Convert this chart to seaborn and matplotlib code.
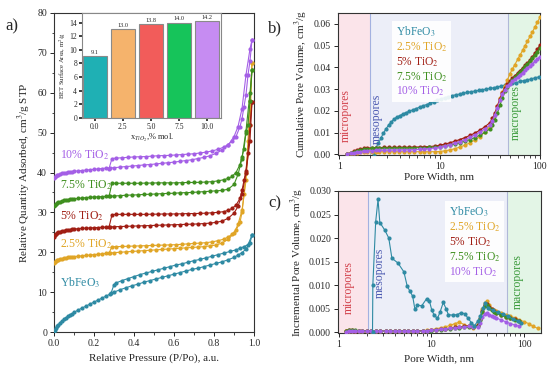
import numpy as np
import pandas as pd
import matplotlib
matplotlib.use("Agg")
import matplotlib.pyplot as plt
import seaborn as sns
from matplotlib.lines import Line2D
from matplotlib.ticker import MultipleLocator

sns.set_theme(style="ticks")
plt.rcParams['font.family'] = ['Liberation Serif', 'DejaVu Serif']
plt.rcParams['mathtext.fontset'] = 'stix'

# ---------------- data ----------------
names = ["YbFeO$_3$", "2.5% TiO$_2$", "5% TiO$_2$", "7.5% TiO$_2$", "10% TiO$_2$"]
colors = ["#2e8aa3", "#e0a526", "#a01e14", "#3f8f1f", "#a45fe6"]

# (a) isotherms
p_ads = [0.002, 0.005, 0.01, 0.015, 0.02, 0.03, 0.04, 0.05, 0.06, 0.07, 0.08, 0.09,
         0.10, 0.12, 0.14, 0.16, 0.18, 0.20, 0.22, 0.24, 0.26, 0.28, 0.30, 0.33,
         0.36, 0.39, 0.42, 0.45, 0.48, 0.51, 0.54, 0.57, 0.60, 0.63, 0.66, 0.69,
         0.72, 0.75, 0.78, 0.81, 0.84, 0.87, 0.90, 0.92, 0.94, 0.96, 0.98, 0.99]
ads_yb = [0.3, 0.6, 1.0, 1.4, 1.7, 2.3, 2.8, 3.2, 3.6, 4.0, 4.3, 4.6,
          4.9, 5.5, 6.0, 6.5, 7.0, 7.5, 8.0, 8.5, 9.0, 9.5, 10.0, 10.6,
          11.1, 11.6, 12.0, 12.5, 12.9, 13.3, 13.7, 14.1, 14.5, 14.9, 15.3, 15.7,
          16.0, 16.4, 16.8, 17.2, 17.6, 18.1, 18.7, 19.3, 19.9, 20.8, 22.3, 24.3]
ads_25 = [17.2, 17.5, 17.8, 18.0, 18.1, 18.3, 18.4, 18.5, 18.6, 18.7, 18.8, 18.85,
          18.9, 19.0, 19.1, 19.2, 19.3, 19.4, 19.5, 19.6, 19.7, 19.8, 19.9, 20.0,
          20.1, 20.2, 20.3, 20.4, 20.5, 20.6, 20.7, 20.8, 20.9, 21.0, 21.1, 21.2,
          21.3, 21.4, 21.6, 21.8, 22.3, 23.2, 24.8, 27.0, 30.5, 38.0, 52.0, 67.5]
ads_5 = [23.8, 24.3, 24.7, 24.9, 25.0, 25.2, 25.3, 25.4, 25.5, 25.6, 25.7, 25.75,
         25.8, 25.9, 26.0, 26.05, 26.1, 26.15, 26.2, 26.25, 26.3, 26.35, 26.4, 26.45,
         26.5, 26.55, 26.6, 26.65, 26.7, 26.75, 26.8, 26.85, 26.9, 26.95, 27.0, 27.05,
         27.1, 27.2, 27.3, 27.5, 27.8, 28.5, 29.8, 31.5, 34.5, 40.0, 48.0, 57.7]
ads_75 = [31.5, 31.9, 32.2, 32.4, 32.5, 32.7, 32.85, 33.0, 33.1, 33.2, 33.3, 33.35,
          33.4, 33.5, 33.6, 33.7, 33.8, 33.85, 33.9, 33.95, 34.0, 34.05, 34.1, 34.2,
          34.3, 34.35, 34.4, 34.5, 34.55, 34.6, 34.7, 34.75, 34.8, 34.9, 34.95, 35.0,
          35.1, 35.2, 35.3, 35.4, 35.5, 35.8, 37.0, 39.5, 43.5, 50.5, 60.0, 65.7]
ads_10 = [38.5, 38.8, 39.1, 39.3, 39.4, 39.6, 39.75, 39.9, 40.0, 40.1, 40.2, 40.25,
          40.3, 40.4, 40.5, 40.6, 40.7, 40.8, 40.9, 41.0, 41.1, 41.15, 41.2, 41.35,
          41.5, 41.6, 41.75, 41.9, 42.0, 42.15, 42.3, 42.45, 42.6, 42.8, 43.0, 43.2,
          43.5, 43.8, 44.2, 44.8, 45.6, 46.8, 49.0, 51.5, 56.0, 64.5, 71.0, 73.3]

p_des_yb = [0.99, 0.97, 0.95, 0.93, 0.91, 0.88, 0.85, 0.82, 0.79, 0.76, 0.73, 0.70,
            0.67, 0.64, 0.61, 0.58, 0.55, 0.52, 0.49, 0.46, 0.43, 0.40, 0.37, 0.34,
            0.31, 0.30, 0.285]
des_yb = [24.3, 21.9, 21.4, 21.0, 20.6, 20.2, 19.8, 19.4, 19.0, 18.6, 18.2, 17.9,
          17.5, 17.1, 16.8, 16.4, 16.0, 15.6, 15.2, 14.8, 14.4, 13.9, 13.4, 12.9,
          12.3, 11.9, 9.7]
p_des = [0.99, 0.98, 0.97, 0.96, 0.95, 0.94, 0.93, 0.91, 0.89, 0.87, 0.85, 0.82,
         0.79, 0.76, 0.73, 0.70, 0.67, 0.64, 0.61, 0.58, 0.55, 0.52, 0.49, 0.46,
         0.43, 0.40, 0.37, 0.34, 0.31, 0.29, 0.275]
des_25 = [67.5, 58.0, 48.0, 40.0, 34.5, 30.0, 27.5, 25.5, 24.5, 23.8, 23.3, 22.9,
          22.6, 22.4, 22.3, 22.2, 22.1, 22.0, 21.9, 21.85, 21.8, 21.75, 21.7, 21.65,
          21.6, 21.55, 21.5, 21.45, 21.4, 21.4, 19.8]
des_5 = [57.7, 52.0, 45.0, 40.5, 38.0, 35.5, 33.5, 31.8, 31.0, 30.5, 30.2, 30.0,
         29.9, 29.8, 29.75, 29.7, 29.7, 29.65, 29.6, 29.6, 29.6, 29.55, 29.55, 29.5,
         29.5, 29.5, 29.5, 29.5, 29.5, 29.4, 26.3]
des_75 = [65.7, 58.0, 52.0, 50.0, 46.0, 44.0, 42.0, 40.0, 39.0, 38.5, 38.2, 37.9,
          37.7, 37.6, 37.55, 37.5, 37.5, 37.45, 37.4, 37.4, 37.4, 37.4, 37.35, 37.35,
          37.3, 37.3, 37.3, 37.3, 37.3, 37.3, 34.0]
des_10 = [73.3, 68.0, 64.5, 59.5, 56.5, 53.5, 51.5, 49.0, 47.8, 47.0, 46.4, 45.8,
          45.4, 45.1, 44.9, 44.7, 44.6, 44.5, 44.4, 44.3, 44.25, 44.2, 44.1, 44.0,
          43.95, 43.9, 43.8, 43.7, 43.6, 43.5, 41.0]

# inset BET
ti_content = ["0.0", "2.5", "5.0", "7.5", "10.0"]
bet_area = [9.1, 13.0, 13.8, 14.0, 14.2]
bar_colors = ["#1fb0b4", "#f5b36c", "#f25c5a", "#16c45a", "#c68cf2"]

# (b) cumulative pore volume
w_cum_yb = [2.2, 2.3, 2.45, 2.6, 2.75, 2.9, 3.1, 3.3, 3.5, 3.75, 4.0, 4.3, 4.6, 5.0, 5.4,
            5.8, 6.3, 6.8, 7.4, 8.0, 8.7, 9.5, 10.3, 11.2, 12.2, 13.3, 14.5, 15.8,
            17.2, 18.8, 20.5, 22.4, 24.4, 26.6, 29, 31.6, 34.5, 37.6, 41, 44.7, 48.7,
            53, 58, 63, 69, 75, 82, 89, 97]
cum_yb = [0.0, 0.003, 0.005, 0.0075, 0.0098, 0.0115, 0.0135, 0.015, 0.0162, 0.0172,
          0.0178, 0.0186, 0.0192, 0.0198, 0.0205, 0.021, 0.0217, 0.0223, 0.0229,
          0.0235, 0.0242, 0.025, 0.0256, 0.026, 0.0265, 0.027, 0.0274, 0.0277,
          0.0281, 0.0285, 0.0288, 0.0291, 0.0294, 0.0297, 0.030, 0.0303, 0.0306,
          0.031, 0.0314, 0.0318, 0.0322, 0.0326, 0.033, 0.0335, 0.0339, 0.0343,
          0.0347, 0.0352, 0.0356]
w_cum_ti = [1.2, 1.3, 1.4, 1.5, 1.6, 1.75, 1.9, 2.1, 2.3, 2.5, 2.8, 3.1, 3.5, 3.9,
            4.4, 5, 5.6, 6.3, 7, 7.9, 8.9, 10, 11.2, 12.6, 14.1, 15.8, 17.8, 20,
            22.4, 25.1, 28.2, 31.6, 33.5, 35.5, 37.6, 39.8, 42.2, 44.7, 47.3, 50.1,
            53, 56, 60, 63, 67, 71, 75, 80, 84, 89, 94, 100]
cum_25 = [0.0, 0.0003, 0.0006, 0.0008, 0.001, 0.0011, 0.0012, 0.0012, 0.0012, 0.0012,
          0.0012, 0.0012, 0.0012, 0.0012, 0.0012, 0.0012, 0.0012, 0.0012, 0.0012,
          0.0012, 0.0012, 0.0013, 0.0016, 0.002, 0.0026, 0.0033, 0.0042, 0.0053,
          0.0066, 0.0082, 0.0102, 0.0127, 0.0152, 0.0185, 0.0222, 0.0257, 0.0288,
          0.0315, 0.0342, 0.037, 0.0392, 0.0412, 0.0437, 0.0455, 0.0478, 0.05,
          0.052, 0.0545, 0.0563, 0.0585, 0.0607, 0.063]
cum_5 = [0.0, 0.0008, 0.0015, 0.002, 0.0024, 0.0027, 0.0029, 0.003, 0.0031, 0.0031,
         0.0032, 0.0032, 0.0032, 0.0033, 0.0033, 0.0033, 0.0034, 0.0034, 0.0035,
         0.0036, 0.0038, 0.0042, 0.0047, 0.0053, 0.006, 0.0068, 0.0077, 0.0087,
         0.0098, 0.0111, 0.0127, 0.0145, 0.0165, 0.019, 0.0222, 0.0255, 0.0283,
         0.0305, 0.0322, 0.0336, 0.0349, 0.0361, 0.0375, 0.0385, 0.0397, 0.0409,
         0.0421, 0.0436, 0.0449, 0.0466, 0.0484, 0.0502]
cum_75 = [0.0, 0.0006, 0.0012, 0.0017, 0.0021, 0.0024, 0.0026, 0.0027, 0.0028, 0.0028,
          0.0029, 0.0029, 0.0029, 0.003, 0.003, 0.003, 0.003, 0.0031, 0.0031, 0.0032,
          0.0033, 0.0035, 0.0038, 0.0042, 0.0047, 0.0053, 0.006, 0.0068, 0.0077,
          0.0088, 0.0101, 0.0117, 0.0135, 0.0158, 0.0188, 0.0225, 0.026, 0.029,
          0.0312, 0.0328, 0.0342, 0.0355, 0.0369, 0.038, 0.0392, 0.0404, 0.0416,
          0.0431, 0.0443, 0.0458, 0.0472, 0.0487]
cum_10 = [0.0, 0.0004, 0.0008, 0.0011, 0.0013, 0.0015, 0.0016, 0.0017, 0.0018, 0.0018,
          0.0019, 0.0019, 0.002, 0.002, 0.0021, 0.0021, 0.0022, 0.0023, 0.0024, 0.0026,
          0.0029, 0.0033, 0.0038, 0.0044, 0.0051, 0.0059, 0.0068, 0.0078, 0.0089,
          0.0102, 0.0117, 0.0134, 0.0155, 0.0182, 0.0215, 0.0248, 0.0277, 0.0298,
          0.0313, 0.0325, 0.0336, 0.0346, 0.0357, 0.0366, 0.0376, 0.0386, 0.0396,
          0.0408, 0.0417, 0.0428, 0.0439, 0.0449]

# (c) incremental pore volume
w_inc_yb = [2.31, 2.33, 2.5, 2.65, 2.77, 3.13, 3.46, 3.74, 4.34, 5.04, 5.48, 5.86,
            6.27, 6.63, 7.05, 7.85, 8.87, 9.5, 10.1, 10.7, 11.6, 12.4, 13.4, 14.5,
            15.2, 16.9, 18.8, 20.8, 23, 24.6, 27, 29, 31.5, 33.7, 35.8, 38, 40.5,
            46, 52, 59, 67, 76, 86, 93]
inc_yb = [0.0, 0.0101, 0.0235, 0.0282, 0.0233, 0.0217, 0.0200, 0.0157, 0.0147,
          0.0128, 0.0097, 0.0087, 0.0076, 0.0048, 0.0057, 0.0056, 0.0071, 0.0066,
          0.0046, 0.0036, 0.0029, 0.0043, 0.0063, 0.0048, 0.0037, 0.0036, 0.0037,
          0.0041, 0.0039, 0.0030, 0.0020, 0.0013, 0.0023, 0.0034, 0.0051, 0.0061,
          0.0051, 0.0046, 0.0042, 0.0038, 0.0034, 0.0027, 0.0023, 0.0020]
w_inc_ti = [1.2, 1.3, 1.4, 1.5, 1.65, 1.8, 2.0, 2.2, 2.5, 2.8, 3.2, 3.6, 4.0, 4.5,
            5, 5.6, 6.3, 7, 8, 9, 10, 11.2, 12.6, 14.1, 15.8, 17.8, 20, 22.4, 25.1,
            28.2, 31.6, 33.5, 35.5, 37.6, 39.8, 42.2, 44.7, 47.3, 50.1, 56, 63, 71,
            80, 89]
w_inc_ext = [100, 112, 125, 140]
inc_25 = [0.0002, 0.0003, 0.0003, 0.0003, 0.0002, 0.0002, 0.0002, 0.0002, 0.0002,
          0.0002, 0.0002, 0.0002, 0.0002, 0.0002, 0.0002, 0.0002, 0.0002, 0.0002,
          0.0003, 0.0004, 0.0005, 0.0007, 0.0009, 0.0011, 0.0014, 0.0018, 0.0021,
          0.0016, 0.0012, 0.0009, 0.0015, 0.0030, 0.0048, 0.0062, 0.0065, 0.0058,
          0.0050, 0.0046, 0.0044, 0.0040, 0.0036, 0.0034, 0.0030, 0.0026,
          0.0022, 0.0018, 0.0012, 0.0008]
inc_5 = [0.0003, 0.0004, 0.0004, 0.0003, 0.0003, 0.0002, 0.0002, 0.0002, 0.0002,
         0.0002, 0.0002, 0.0002, 0.0002, 0.0002, 0.0002, 0.0002, 0.0002, 0.0002,
         0.0003, 0.0003, 0.0004, 0.0005, 0.0006, 0.0007, 0.0008, 0.0010, 0.0011,
         0.0012, 0.0013, 0.0011, 0.0014, 0.0028, 0.0045, 0.0058, 0.0060, 0.0054,
         0.0048, 0.0044, 0.0041, 0.0037, 0.0033, 0.0030, 0.0027, 0.0024]
inc_75 = [0.0003, 0.0004, 0.0005, 0.0004, 0.0003, 0.0003, 0.0002, 0.0002, 0.0002,
          0.0002, 0.0002, 0.0002, 0.0002, 0.0002, 0.0002, 0.0002, 0.0002, 0.0002,
          0.0002, 0.0003, 0.0003, 0.0004, 0.0005, 0.0006, 0.0007, 0.0008, 0.0009,
          0.0010, 0.0011, 0.0010, 0.0012, 0.0025, 0.0042, 0.0056, 0.0058, 0.0052,
          0.0047, 0.0043, 0.0040, 0.0036, 0.0032, 0.0029, 0.0026, 0.0023]
inc_10 = [0.0001, 0.0002, 0.0002, 0.0002, 0.0002, 0.0002, 0.0002, 0.0002, 0.0002,
          0.0002, 0.0002, 0.0002, 0.0002, 0.0002, 0.0002, 0.0002, 0.0002, 0.0002,
          0.0002, 0.0003, 0.0004, 0.0005, 0.0006, 0.0007, 0.0008, 0.0009, 0.0010,
          0.0011, 0.0012, 0.0010, 0.0011, 0.0020, 0.0032, 0.0039, 0.0040, 0.0037,
          0.0034, 0.0032, 0.0030, 0.0026, 0.0022, 0.0018, 0.0015, 0.0012]

# ---------------- figure ----------------
fig = plt.figure(figsize=(5.5, 3.77), dpi=100)
W, H = 550, 377
def box(l, t, r, b):
    return [l / W, 1 - b / H, (r - l) / W, (b - t) / H]

axA = fig.add_axes(box(54, 13, 254, 332))
axB = fig.add_axes(box(338, 13, 540, 155))
axC = fig.add_axes(box(338, 191, 541, 333))
axI = fig.add_axes(box(82, 13, 221, 118))

MS = 3.0
LW = 0.8
def curve(ax, x, y, c, z=3):
    sns.lineplot(x=x, y=y, ax=ax, color=c, marker='o', markersize=MS,
                 markeredgewidth=0, linewidth=LW, sort=False, estimator=None,
                 zorder=z, legend=False)

# ---- panel a ----
ads = [ads_yb, ads_25, ads_5, ads_75, ads_10]
des = [des_yb, des_25, des_5, des_75, des_10]
pdes = [p_des_yb, p_des, p_des, p_des, p_des]
for i in range(5):
    curve(axA, p_ads, ads[i], colors[i], z=3 + i)
    curve(axA, pdes[i], des[i], colors[i], z=3 + i)
axA.set_xlim(0, 1.0)
axA.set_ylim(0, 80)
axA.xaxis.set_major_locator(MultipleLocator(0.2))
axA.yaxis.set_major_locator(MultipleLocator(10))
axA.yaxis.set_minor_locator(MultipleLocator(5))
axA.xaxis.set_minor_locator(MultipleLocator(0.1))
axA.xaxis.set_major_formatter(matplotlib.ticker.FormatStrFormatter('%.1f'))
axA.set_xlabel("Relative Pressure (P/Po), a.u.", fontsize=8, labelpad=4)
axA.set_ylabel("Relative Quantity Adsorbed, cm$^3$/g STP", fontsize=8, labelpad=3)
lab_y = [12.3, 22.0, 29.0, 36.8, 44.4]
for i in range(5):
    axA.text(0.03, lab_y[i], names[i], color=colors[i], fontsize=8.5,
             va='center', ha='left', zorder=10)

# ---- inset ----
dfI = pd.DataFrame({"x": ti_content, "y": bet_area})
sns.barplot(data=dfI, x="x", y="y", hue="x", palette=bar_colors, ax=axI,
            width=0.86, edgecolor="#8a8a8a", linewidth=0.8, legend=False,
            saturation=1)
for k, v in enumerate(bet_area):
    axI.text(k, v + 0.2, f"{v:.1f}", ha='center', va='bottom', fontsize=4.5)
axI.set_xlim(-0.45, 4.5)
axI.set_ylim(0, 15.4)
axI.yaxis.set_major_locator(MultipleLocator(2))
axI.set_xlabel("x$_{TiO_2}$,% mol.", fontsize=6, labelpad=1)
axI.set_ylabel("BET Surface Area, m$^2$/g", fontsize=4.8, labelpad=1)
axI.tick_params(labelsize=5.5, length=2, pad=1.5)
for s in axI.spines.values():
    s.set_color("#888888")
    s.set_linewidth(0.8)
axI.set_facecolor("white")

# ---- region shading helper ----
def regions(ax, lo, b1, b2, hi):
    ax.axvspan(lo, b1, color="#fbe4ea", zorder=0, lw=0)
    ax.axvspan(b1, b2, color="#eceef8", zorder=0, lw=0)
    ax.axvspan(b2, hi, color="#e3f5e6", zorder=0, lw=0)
    ax.axvline(b1, color="#a3b1e0", lw=0.8, zorder=1)
    ax.axvline(b2, color="#b0b8d8", lw=0.8, zorder=1)

# ---- panel b ----
regions(axB, 0.9, 2.0, 48, 110)
curve(axB, w_cum_yb, cum_yb, colors[0], z=3)
curve(axB, w_cum_ti, cum_25, colors[1], z=4)
curve(axB, w_cum_ti, cum_5, colors[2], z=5)
curve(axB, w_cum_ti, cum_75, colors[3], z=6)
curve(axB, w_cum_ti, cum_10, colors[4], z=7)
axB.set_xscale('log')
axB.set_xlim(0.97, 100)
axB.set_ylim(-0.0003, 0.065)
axB.yaxis.set_major_locator(MultipleLocator(0.01))
axB.yaxis.set_major_formatter(matplotlib.ticker.FormatStrFormatter('%.2f'))
axB.set_xticks([1, 10, 100])
axB.set_xticklabels(["1", "10", "100"])
axB.set_xlabel("Pore Width, nm", fontsize=8, labelpad=1)
axB.set_ylabel("Cumulative Pore Volume, cm$^3$/g", fontsize=8, labelpad=3)
axB.text(1.17, 0.018, "micropores", rotation=90, color="#d2404a", fontsize=8.5,
         ha='center', va='center', zorder=8)
axB.text(2.35, 0.0165, "mesopores", rotation=90, color="#4a58b0", fontsize=8.5,
         ha='center', va='center', zorder=8)
axB.text(57, 0.019, "macropores", rotation=90, color="#3a9a3a", fontsize=8.5,
         ha='center', va='center', zorder=8)

# ---- panel c ----
regions(axC, 0.9, 2.07, 66, 160)
curve(axC, w_inc_ti + w_inc_ext, inc_25, colors[1], z=4)
curve(axC, w_inc_ti, inc_5, colors[2], z=5)
curve(axC, w_inc_ti, inc_75, colors[3], z=6)
curve(axC, w_inc_ti, inc_10, colors[4], z=7)
curve(axC, w_inc_yb, inc_yb, colors[0], z=8)
axC.set_xscale('log')
axC.set_xlim(0.98, 152)
axC.set_ylim(-0.0002, 0.030)
axC.yaxis.set_major_locator(MultipleLocator(0.005))
axC.yaxis.set_major_formatter(matplotlib.ticker.FormatStrFormatter('%.3f'))
axC.set_xticks([1, 10, 100])
axC.set_xticklabels(["1", "10", "100"])
axC.set_xlabel("Pore Width, nm", fontsize=8, labelpad=4)
axC.set_ylabel("Incremental Pore Volume, cm$^3$/g", fontsize=8, labelpad=2)
axC.text(1.27, 0.0094, "micropores", rotation=90, color="#d2404a", fontsize=8.5,
         ha='center', va='center', zorder=9)
axC.text(2.8, 0.0125, "mesopores", rotation=90, color="#4a58b0", fontsize=8.5,
         ha='center', va='center', zorder=9)
axC.text(86, 0.0108, "macropores", rotation=90, color="#3a9a3a", fontsize=8.5,
         ha='center', va='center', zorder=9)

# legends (coloured text)
def text_legend(ax, anchor):
    handles = [Line2D([], [], color='none') for _ in names]
    leg = ax.legend(handles, names, loc='upper left', bbox_to_anchor=anchor,
                    handlelength=0, handletextpad=0, fontsize=8.3,
                    labelspacing=0.12, borderpad=0.3, frameon=True, fancybox=False)
    leg.get_frame().set_facecolor('white')
    leg.get_frame().set_edgecolor('none')
    leg.get_frame().set_alpha(0.9)
    for t, c in zip(leg.get_texts(), colors):
        t.set_color(c)
    leg.set_zorder(20)

text_legend(axB, (0.24, 0.985))
text_legend(axC, (0.5, 0.97))

for ax in (axA, axB, axC):
    ax.tick_params(which='major', direction='out', length=3, width=0.7,
                   labelsize=7, pad=2)
    ax.tick_params(which='minor', direction='out', length=1.8, width=0.6)
    for s in ax.spines.values():
        s.set_linewidth(0.8)
        s.set_color("#333333")

fig.text(5 / W, 1 - 26 / H, "a)", fontsize=12, va='center', ha='left')
fig.text(268 / W, 1 - 28 / H, "b)", fontsize=12, va='center', ha='left')
fig.text(268 / W, 1 - 203 / H, "c)", fontsize=12, va='center', ha='left')

fig.savefig("out.png", dpi=100)
